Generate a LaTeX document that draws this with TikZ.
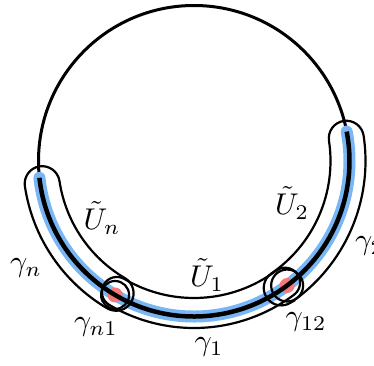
\documentclass[tikz,border=0pt]{standalone}
\usepackage{graphicx}
\usepackage{amsmath}
\definecolor{gblue}{RGB}{120,182,245}
\definecolor{gred}{RGB}{244,122,122}
\newcommand\mytube[5]{% center, start, end, radius, halfwidth
  \draw[tubeline] (#1) ++(#2:{#4+#5})
    arc[start angle=#2, end angle=#3, radius={#4+#5}]
    arc[start angle=#3, end angle={#3+180}, radius=#5]
    arc[start angle=#3, end angle=#2, radius={#4-#5}]
    arc[start angle={#2+180}, end angle={#2+360}, radius=#5] -- cycle;}
\newcommand\biglab[1]{\scalebox{3.0}{#1}}
\tikzset{
  tubeline/.style={line width=2.2pt, black},
  lab/.style={inner sep=0pt},
}
\begin{document}
\begin{tikzpicture}[x=1pt,y=1pt]
\useasboundingbox (0,0) rectangle (374,365);
\coordinate (C) at (194,204);
\def\R{155.5}
% main circle
\draw[line width=3pt] (C) circle[radius=\R];
% blue band
\draw[gblue, line width=12pt, line cap=round] (C) ++(186.2:\R) arc[start angle=186.2, end angle=370.9, radius=\R];
% red dots
\fill[gred] (C) ++(239.5:\R) coordinate (p1) circle[radius=7.5];
\fill[gred] (C) ++(306.8:\R) coordinate (p2) circle[radius=7.5];
% black curve over blue
\draw[line width=4.5pt] (C) ++(186.2:\R) arc[start angle=186.2, end angle=370.9, radius=\R];
% tubes
\mytube{C}{188.5}{239.5}{153.5}{17.5}
\mytube{C}{239.5}{306.8}{152}{15}
\mytube{C}{304.5}{368.5}{154}{17.5}
% small circles
\draw[tubeline] (p1) circle[radius=14];
\draw[tubeline] (p2) circle[radius=16];
% labels
\node[lab] (Un) at (102,147) {\biglab{$\tilde{U}_n$}};
\node[lab] (U1) at (207,90) {\biglab{$\tilde{U}_1$}};
\node[lab] (U2) at (292,162) {\biglab{$\tilde{U}_2$}};
\node[lab] (gn) at (26,97) {\biglab{$\gamma_n$}};
\node[lab] (gn1) at (96,38) {\biglab{$\gamma_{n1}$}};
\node[lab] (g12) at (306,43) {\biglab{$\gamma_{12}$}};
\node[lab] (g1) at (209,18) {\biglab{$\gamma_1$}};
\node[lab, anchor=west] (g2) at (355,119) {\biglab{$\gamma_2$}};
\end{tikzpicture}
\end{document}
